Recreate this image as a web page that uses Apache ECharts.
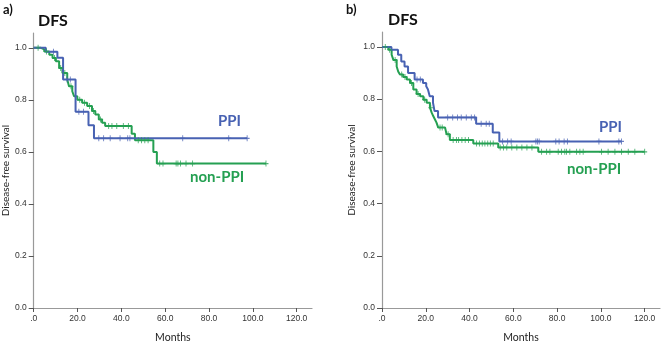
<!DOCTYPE html>
<html>
<head>
<meta charset="utf-8">
<script src="https://cdn.jsdelivr.net/npm/echarts@6/dist/echarts.min.js"></script>
<style>
  html, body { margin: 0; padding: 0; background: #fff; }
  #chart { width: 663px; height: 348px; }
</style>
</head>
<body>
<div id="chart"></div>
<script>
// Kaplan-Meier disease-free survival, two cohorts (a, b), PPI vs non-PPI.
// Event times (months) and survival after each event; censored times separately.

const xTicks = [0, 20, 40, 60, 80, 100, 120];
const yTicks = [0, 0.2, 0.4, 0.6, 0.8, 1.0];

// Cohort a — PPI
const aPpiTimes = [5.5, 10.8, 13.4, 19.1, 25, 27.5];
const aPpiSurv  = [0.985, 0.962, 0.878, 0.754, 0.702, 0.652];
const aPpiCensor = [9, 15.2, 16.7, 20.6, 22.7, 29.7, 31.9, 34.9, 39.4, 42.9, 43.9, 68, 89, 97.4];

// Cohort a — non-PPI
const aNonTimes = [3.3, 4.8, 7.1, 8.6, 10.1, 11.6, 13.1, 15.3, 16.1, 17.6, 18.4, 19.9, 22.1, 24.4, 26.6, 28.1, 29.7, 31.2, 32.6, 44.7, 46.2, 54.6, 56.2];
const aNonSurv  = [0.994, 0.986, 0.973, 0.961, 0.948, 0.922, 0.903, 0.878, 0.852, 0.833, 0.814, 0.80, 0.789, 0.776, 0.757, 0.744, 0.725, 0.712, 0.70, 0.67, 0.645, 0.60, 0.555];
const aNonCensor = [2, 5.8, 9.5, 12.3, 14.2, 17, 21, 23.2, 25.5, 27.3, 30.5, 34.2, 35.7, 37.9, 40.9, 43.2, 47.7, 49.2, 50.7, 52.2, 57.5, 59, 65, 65.8, 67, 69.5, 72.5, 106];

// Cohort b — PPI
const bPpiTimes = [4.3, 7.3, 8.8, 10.3, 11.9, 14.9, 18.7, 20.2, 21, 21.8, 23.3, 24, 25.6, 43, 50.6, 53.6];
const bPpiSurv  = [0.989, 0.97, 0.944, 0.925, 0.90, 0.875, 0.862, 0.849, 0.837, 0.811, 0.786, 0.754, 0.73, 0.706, 0.672, 0.638];
const bPpiCensor = [16, 17.5, 30, 32.3, 34.5, 36.2, 38.5, 40.8, 42.3, 45.3, 47.6, 49, 55.1, 57.4, 59, 70.3, 71, 71.8, 79.4, 80.9, 83.2, 84.7, 99.1, 108.2, 109.4];

// Cohort b — non-PPI
const bNonTimes = [2.9, 4.4, 5.2, 6.7, 7.4, 8.2, 9.7, 11.3, 12.8, 14.3, 15.8, 17.4, 18.9, 20.4, 21.9, 22.7, 23.4, 24.2, 24.9, 25.7, 28.8, 29.5, 31, 41.7, 53.1, 71.4];
const bNonSurv  = [0.989, 0.97, 0.95, 0.925, 0.906, 0.894, 0.885, 0.875, 0.862, 0.837, 0.82, 0.811, 0.798, 0.786, 0.767, 0.748, 0.735, 0.722, 0.71, 0.691, 0.684, 0.665, 0.643, 0.63, 0.615, 0.598];
const bNonCensor = [1.5, 3.5, 6, 9, 10.5, 13.5, 16.5, 19.5, 22.3, 26.5, 27.5, 30.2, 32.5, 34, 35, 36.5, 38, 39.5, 43.2, 44.5, 45.8, 47, 48.3, 49.5, 50.8, 54, 55.5, 57, 59.3, 61.6, 63.9, 66.2, 68.5, 72.9, 75.2, 76.7, 80.5, 82, 83.5, 84.3, 85.8, 88.9, 90.4, 91.9, 100.3, 103.3, 106.4, 109.4, 112.5, 115.5, 120];

const BLUE = '#4862b3';
const GREEN = '#25a052';
const CROSS = 'path://M-0.18,-1H0.18V-0.18H1V0.18H0.18V1H-0.18V0.18H-1V-0.18H-0.18Z';

function survAt(times, surv, t) {
  let s = 1;
  for (let i = 0; i < times.length; i++) if (times[i] <= t) s = surv[i];
  return s;
}
function stepData(times, surv, censor) {
  const pts = [[0, 1]];
  times.forEach((t, i) => pts.push([t, surv[i]]));
  const end = Math.max(times[times.length - 1], ...censor);
  pts.push([end, survAt(times, surv, end)]);
  return pts;
}
function censorData(times, surv, censor) {
  return censor.map(t => [t, survAt(times, surv, t)]);
}

function curve(idx, times, surv, censor, color) {
  return [
    {
      type: 'line', xAxisIndex: idx, yAxisIndex: idx, step: 'end',
      data: stepData(times, surv, censor), showSymbol: false,
      lineStyle: { color, width: 2 }, silent: true, z: 3
    },
    {
      type: 'scatter', xAxisIndex: idx, yAxisIndex: idx,
      data: censorData(times, surv, censor), symbol: CROSS, symbolSize: [5, 6],
      itemStyle: { color }, silent: true, z: 4
    }
  ];
}

const fmtX = v => (v === 0 ? '.0' : v.toFixed(1));
const tickFont = { fontFamily: 'Liberation Sans, Arial, sans-serif', fontSize: 8.5, color: '#333' };

function xAxis(gridIndex) {
  return {
    type: 'value', gridIndex, min: 0, max: 127,
    name: 'Months', nameLocation: 'middle', nameGap: 24,
    nameTextStyle: { fontFamily: 'Lato, sans-serif', fontSize: 10.5, color: '#222' },
    axisLine: { lineStyle: { color: '#999', width: 1.2 } },
    axisTick: { customValues: xTicks, length: 4, lineStyle: { color: '#555' } },
    axisLabel: { customValues: xTicks, formatter: fmtX, margin: 6, ...tickFont },
    splitLine: { show: false }
  };
}
function yAxis(gridIndex, gap) {
  return {
    type: 'value', gridIndex, min: 0, max: 1.057,
    name: 'Disease-free survival', nameLocation: 'middle', nameGap: gap,
    nameTextStyle: { fontFamily: 'Lato, sans-serif', fontSize: 10, color: '#222' },
    axisLine: { show: true, lineStyle: { color: '#999', width: 1.2 } },
    axisTick: { show: true, customValues: yTicks, length: 5, lineStyle: { color: '#555' } },
    axisLabel: { customValues: yTicks, formatter: v => v.toFixed(1), margin: 7, ...tickFont },
    splitLine: { show: false }
  };
}

const textStyleBold = (size, color) => ({ fontFamily: 'Lato, sans-serif', fontWeight: 'bold', fontSize: size, fill: color });

const chart = echarts.init(document.getElementById('chart'), null, { renderer: 'canvas' });
chart.setOption({
  animation: false,
  backgroundColor: '#fff',
  grid: [
    { left: 31, top: 33, width: 281, height: 277 },
    { left: 382, top: 32, width: 278, height: 278 }
  ],
  xAxis: [xAxis(0), xAxis(1)],
  yAxis: [yAxis(0, 22), yAxis(1, 25)],
  series: [
    ...curve(0, aNonTimes, aNonSurv, aNonCensor, GREEN),
    ...curve(0, aPpiTimes, aPpiSurv, aPpiCensor, BLUE),
    ...curve(1, bNonTimes, bNonSurv, bNonCensor, GREEN),
    ...curve(1, bPpiTimes, bPpiSurv, bPpiCensor, BLUE)
  ],
  graphic: [
    { type: 'text', left: 3, top: 3, style: { text: 'a)', ...textStyleBold(13, '#111') } },
    { type: 'text', left: 38, top: 13, style: { text: 'DFS', ...textStyleBold(16, '#111') } },
    { type: 'text', left: 346, top: 3, style: { text: 'b)', ...textStyleBold(13, '#111') } },
    { type: 'text', left: 388, top: 12, style: { text: 'DFS', ...textStyleBold(16, '#111') } },
    { type: 'text', left: 218, top: 114, style: { text: 'PPI', ...textStyleBold(15, BLUE) } },
    { type: 'text', left: 190, top: 170, style: { text: 'non-PPI', ...textStyleBold(15, GREEN) } },
    { type: 'text', left: 599, top: 120, style: { text: 'PPI', ...textStyleBold(15, BLUE) } },
    { type: 'text', left: 567, top: 162, style: { text: 'non-PPI', ...textStyleBold(15, GREEN) } }
  ]
});
</script>
</body>
</html>
